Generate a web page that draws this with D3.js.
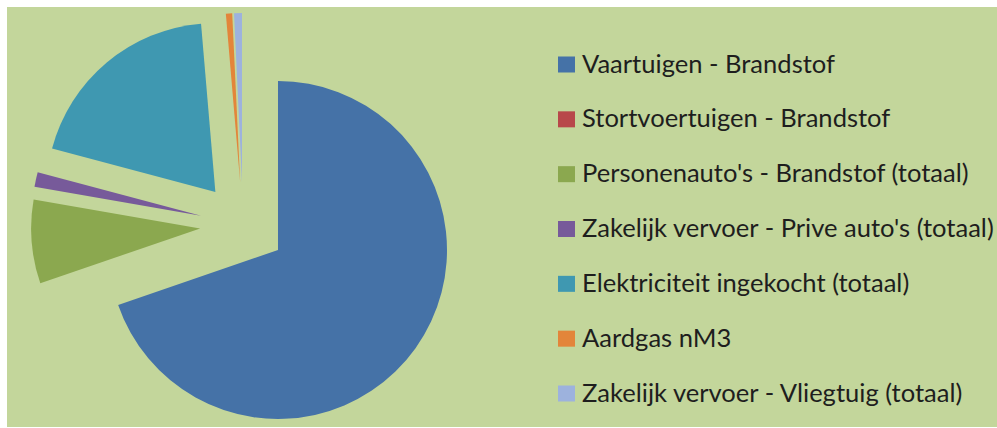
<!DOCTYPE html>
<html>
<head>
    <title>Exploded pie chart</title>
    <script src="https://d3js.org/d3.v7.min.js"></script>
    <style>
        body { margin: 0; background: #fff; }
    </style>
</head>
<body>
    <script>
        // Data
        const categories = [
            "Vaartuigen - Brandstof",
            "Stortvoertuigen - Brandstof",
            "Personenauto's - Brandstof (totaal)",
            "Zakelijk vervoer - Prive auto's (totaal)",
            "Elektriciteit ingekocht (totaal)",
            "Aardgas nM3",
            "Zakelijk vervoer - Vliegtuig (totaal)"
        ];
        const values = [69.7, 0, 8.0, 1.4, 19.5, 0.6, 0.75];
        const colors = ["#4572a7", "#b8484a", "#8ba84f", "#775a9a", "#3f98b1", "#e3853a", "#9db2dd"];

        const width = 997, height = 428;
        const radius = 169, explode = 43;
        const cx = 243, cy = 225;

        const svg = d3.select("body")
          .append("svg")
            .attr("width", width)
            .attr("height", height);

        // green plot panel
        svg.append("rect")
            .attr("x", 7).attr("y", 7)
            .attr("width", width - 7).attr("height", 420)
            .attr("fill", "#c3d69b");

        const pie = d3.pie().sort(null).value(d => d);
        const arcs = pie(values).map((d, i) => Object.assign(d, {name: categories[i], color: colors[i]}));
        const arc = d3.arc().innerRadius(0).outerRadius(radius);

        const g = svg.append("g").attr("transform", `translate(${cx},${cy})`);

        // each slice pushed out along its bisector
        g.selectAll("path")
          .data(arcs.filter(d => d.value > 0))
          .enter()
          .append("path")
            .attr("d", arc)
            .attr("fill", d => d.color)
            .attr("transform", d => {
                const a = (d.startAngle + d.endAngle) / 2;
                return `translate(${explode * Math.sin(a)},${-explode * Math.cos(a)})`;
            });

        // Legend
        const legend = svg.append("g");
        const rowY = d3.scaleLinear().domain([0, 6]).range([64.5, 393.5]);

        legend.selectAll("rect")
          .data(arcs)
          .enter()
          .append("rect")
            .attr("x", 558)
            .attr("y", (d, i) => rowY(i) - 8)
            .attr("width", 17)
            .attr("height", 16)
            .attr("fill", d => d.color);

        const labels = legend.selectAll("text")
          .data(arcs)
          .enter()
          .append("text")
            .attr("x", 582)
            .attr("y", (d, i) => rowY(i) + 8)
            .style("font-family", "Lato, 'Open Sans', sans-serif")
            .style("font-size", "26px")
            .style("fill", "#1e1e1e")
            .text(d => d.name);

        // fit the first label to the width it has in the original (Calibri is narrow)
        const w0 = labels.node().getComputedTextLength();
        const fs = 26 * 253 / w0;
        labels.style("font-size", fs + "px");
    </script>
</body>
</html>
